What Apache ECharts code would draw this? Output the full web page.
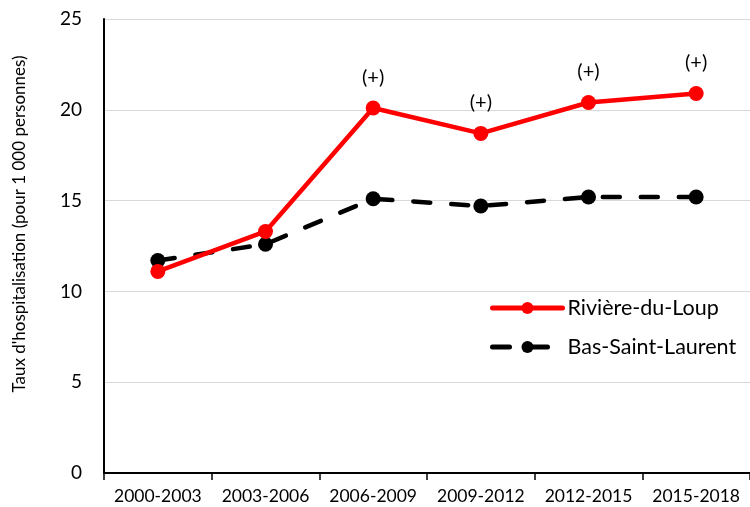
<!DOCTYPE html>
<html>
<head>
<meta charset="utf-8">
<script src="https://cdn.jsdelivr.net/npm/echarts@6/dist/echarts.min.js"></script>
<style>html,body{margin:0;padding:0;background:#fff}#c{width:750px;height:507px}</style>
</head>
<body>
<div id="c"></div>
<script>
const categories = ['2000-2003','2003-2006','2006-2009','2009-2012','2012-2015','2015-2018'];
const riviereDuLoup = [11.1, 13.3, 20.1, 18.7, 20.4, 20.9];
const basSaintLaurent = [11.7, 12.6, 15.1, 14.7, 15.2, 15.2];
const significance = ['', '', '(+)', '(+)', '(+)', '(+)'];
const yTicks = [0, 5, 10, 15, 20, 25];

const font = 'Lato, "Open Sans", sans-serif';
const chart = echarts.init(document.getElementById('c'), null, {renderer: 'canvas'});
chart.setOption({
  animation: false,
  backgroundColor: '#fff',
  grid: {left: 104, top: 19, width: 656, height: 454, containLabel: false},
  xAxis: {
    type: 'category',
    data: categories,
    boundaryGap: true,
    axisLine: {lineStyle: {color: '#000', width: 2}},
    axisTick: {show: true, length: 7, interval: 0, lineStyle: {color: '#000', width: 1.5}},
    axisLabel: {color: '#000', fontSize: 17.5, fontFamily: font, margin: 14, interval: 0},
    splitLine: {show: false}
  },
  yAxis: {
    type: 'value',
    min: yTicks[0],
    max: yTicks[yTicks.length - 1],
    interval: 5,
    axisLine: {show: true, lineStyle: {color: '#000', width: 2}},
    axisTick: {show: false},
    axisLabel: {color: '#000', fontSize: 19, fontFamily: font, margin: 22},
    splitLine: {lineStyle: {color: '#d9d9d9', width: 1}}
  },
  legend: {
    orient: 'vertical',
    left: 490,
    top: 297,
    padding: 0,
    itemWidth: 70,
    itemHeight: 15,
    itemGap: 17,
    textStyle: {color: '#000', fontSize: 21.5, fontFamily: font},
    data: [
      {name: 'Rivière-du-Loup', lineStyle: {width: 5}},
      {name: 'Bas-Saint-Laurent', lineStyle: {width: 5}}
    ]
  },
  graphic: [{
    type: 'text',
    x: 20, y: 224,
    rotation: Math.PI / 2,
    style: {
      text: "Taux d'hospitalisation (pour 1 000 personnes)",
      fill: '#000',
      font: '17px ' + font,
      textAlign: 'center',
      textVerticalAlign: 'middle'
    }
  }],
  series: [
    {
      name: 'Bas-Saint-Laurent',
      type: 'line',
      data: basSaintLaurent,
      symbol: 'circle',
      symbolSize: 15,
      itemStyle: {color: '#000'},
      lineStyle: {color: '#000', width: 4.5, type: [17, 21], cap: 'round'},
      z: 2
    },
    {
      name: 'Rivière-du-Loup',
      type: 'line',
      data: riviereDuLoup,
      symbol: 'circle',
      symbolSize: 15,
      itemStyle: {color: '#ff0000'},
      lineStyle: {color: '#ff0000', width: 4.5, cap: 'round'},
      label: {
        show: true,
        position: 'top',
        distance: 13,
        color: '#000',
        fontSize: 20,
        fontFamily: font,
        formatter: p => significance[p.dataIndex]
      },
      z: 3
    }
  ]
});
</script>
</body>
</html>
